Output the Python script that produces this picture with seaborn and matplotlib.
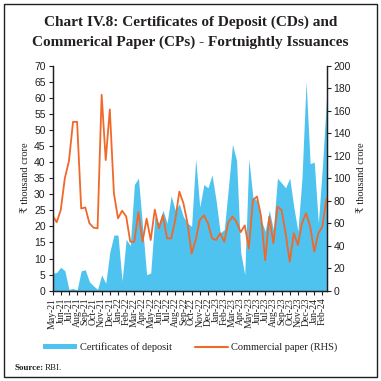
import matplotlib
matplotlib.use('Agg')
import matplotlib.pyplot as plt
import numpy as np
import pandas as pd
import seaborn as sns
from matplotlib.patches import Rectangle
from matplotlib.lines import Line2D
from matplotlib.patches import Patch

# Fortnightly issuances, May-21 to Feb-24 (two points per month)
months = ['May-21', 'Jun-21', 'Jul-21', 'Aug-21', 'Sep-21', 'Oct-21', 'Nov-21', 'Dec-21',
          'Jan-22', 'Feb-22', 'Mar-22', 'Apr-22', 'May-22', 'Jun-22', 'Jul-22', 'Aug-22',
          'Sep-22', 'Oct-22', 'Nov-22', 'Dec-22', 'Jan-23', 'Feb-23', 'Mar-23', 'Apr-23',
          'May-23', 'Jun-23', 'Jul-23', 'Aug-23', 'Sep-23', 'Oct-23', 'Nov-23', 'Dec-23',
          'Jan-24', 'Feb-24']

# Certificates of deposit (LHS, thousand crore)
cd = [5.4, 5.7, 7.3, 6.2, 0.4, 0.7, 0.2, 6.2, 6.5, 2.8, 1.5, 0.4, 4.9, 2.3, 12.0, 17.3,
      17.3, 3.0, 16.0, 14.0, 33.0, 35.0, 20.0, 5.0, 5.5, 23.0, 21.0, 25.0, 21.0, 29.5, 25.0, 27.0,
      23.0, 21.0, 20.0, 41.0, 26.0, 33.0, 32.0, 36.0, 28.0, 18.0, 19.0, 32.0, 45.5, 40.5, 12.0, 5.0,
      41.0, 29.0, 28.0, 22.0, 18.5, 25.0, 19.0, 35.0, 33.5, 32.0, 35.0, 26.0, 18.5, 35.0, 65.0, 39.5,
      40.0, 21.0, 38.6, 60.0]

# Commercial paper (RHS, thousand crore)
cp = [66.7, 60.8, 71.7, 100.0, 115.0, 150.0, 150.0, 73.0, 74.0, 60.0, 56.0, 55.4, 174.0, 116.0, 161.0, 86.6,
      64.3, 71.0, 66.0, 43.5, 43.5, 70.0, 43.5, 64.0, 45.0, 72.0, 55.4, 67.0, 46.5, 46.5, 62.8, 88.0,
      77.7, 60.0, 33.0, 45.0, 62.8, 67.0, 60.0, 46.5, 45.0, 51.0, 43.5, 61.0, 65.8, 61.0, 52.0, 58.0,
      37.5, 80.6, 83.6, 66.0, 27.0, 65.8, 42.0, 74.7, 71.7, 51.0, 25.8, 51.0, 40.6, 60.0, 68.8, 57.0,
      34.7, 51.0, 57.0, 82.0]

df = pd.DataFrame({'t': np.arange(len(cd)), 'cd': cd, 'cp': cp})

sns.set_style('ticks')
serif = ['Liberation Serif', 'DejaVu Serif', 'DejaVu Sans']
sans = ['Liberation Sans', 'DejaVu Sans']
plt.rcParams['font.family'] = serif

blue = '#4FC3EF'
orange = '#F0682A'
ink = '#231F20'

fig = plt.figure(figsize=(3.81, 3.81), dpi=100)
fig.patch.set_facecolor('white')
ax = fig.add_axes([0.138, 0.237, 0.719, 0.591])
ax2 = ax.twinx()

ax.fill_between(df['t'], 0, df['cd'], color=blue, linewidth=0)
sns.lineplot(data=df, x='t', y='cp', ax=ax2, color=orange, linewidth=1.3)

ax.set_xlim(0, len(cd) - 1)
ax.set_ylim(0, 70)
ax2.set_ylim(0, 200)
ax.set_yticks(np.arange(0, 71, 5))
ax2.set_yticks(np.arange(0, 201, 20))
ax.set_xticks(np.arange(0, 2 * len(months), 2))
ax.set_xticklabels(months, rotation=90, fontsize=7, color=ink)

for a in (ax, ax2):
    a.spines['top'].set_visible(False)
    for s in ('left', 'right', 'bottom'):
        a.spines[s].set_color(ink)
        a.spines[s].set_linewidth(0.9)
    a.tick_params(axis='both', length=3, width=0.8, color=ink, pad=2)
    for lab in a.get_yticklabels():
        lab.set_family(sans)
        lab.set_fontsize(7.5)
        lab.set_color(ink)
ax2.set_xlabel('')
ax.set_ylabel('₹ thousand crore', fontsize=7.5, color=ink, labelpad=3)
ax2.set_ylabel('₹ thousand crore', fontsize=7.5, color=ink, labelpad=4)

fig.text(0.5, 0.942, 'Chart IV.8: Certificates of Deposit (CDs) and',
         ha='center', va='center', fontsize=11, fontweight='bold', color=ink)
fig.text(0.5, 0.889, 'Commerical Paper (CPs) - Fortnightly Issuances',
         ha='center', va='center', fontsize=11, fontweight='bold', color=ink)

handles = [Patch(facecolor=blue, edgecolor='none'),
           Line2D([], [], color=orange, linewidth=1.5)]
fig.legend(handles, ['Certificates of deposit', 'Commercial paper (RHS)'],
           loc='center', bbox_to_anchor=(0.5, 0.088), ncol=2, frameon=False,
           fontsize=7.5, handlelength=3.2, handleheight=0.5, columnspacing=2.2,
           handletextpad=0.3, labelcolor=ink)

fig.text(0.037, 0.034, 'Source:', fontsize=6.5, fontweight='bold', color=ink, va='center')
fig.text(0.118, 0.034, 'RBI.', fontsize=6.5, color=ink, va='center')

fig.patches.append(Rectangle((0.011, 0.011), 0.978, 0.978, transform=fig.transFigure,
                             fill=False, edgecolor=ink, linewidth=1.0))

fig.savefig('out.png', dpi=100)
